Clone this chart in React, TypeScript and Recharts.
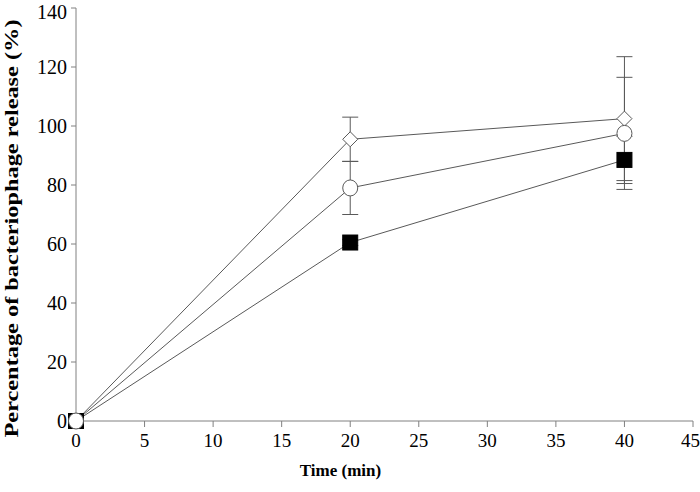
import React from 'react';
import { LineChart, Line, XAxis, YAxis, ErrorBar } from 'recharts';

// Sampling times (min)
const times = [0, 20, 40];

// Three treatments: open diamond, open circle, filled square
const diamondValues = [0, 95.5, 102.5];
const diamondErrors = [0, 7.5, 21];
const circleValues = [0, 79, 97.5];
const circleErrors = [0, 9, 19];
const squareValues = [0, 60.5, 88.5];
const squareErrors = [0, 1, 8];

const xTicks = [0, 5, 10, 15, 20, 25, 30, 35, 40, 45];
const yTicks = [0, 20, 40, 60, 80, 100, 120, 140];

const data = times.map((t, i) => ({
  time: t,
  diamond: diamondValues[i],
  diamondErr: diamondErrors[i],
  circle: circleValues[i],
  circleErr: circleErrors[i],
  square: squareValues[i],
  squareErr: squareErrors[i],
}));

const LINE = '#595959';
const AXIS = '#808080';
const FONT = '"Liberation Serif", "Times New Roman", serif';

const DiamondDot = (props: any) => {
  const { cx, cy } = props;
  if (cx == null || cy == null) return null;
  const r = 7.5;
  return (
    <path
      d={`M${cx},${cy - r} L${cx + r},${cy} L${cx},${cy + r} L${cx - r},${cy} Z`}
      fill="#fff"
      stroke={LINE}
      strokeWidth={1}
    />
  );
};

const CircleDot = (props: any) => {
  const { cx, cy } = props;
  if (cx == null || cy == null) return null;
  return <ellipse cx={cx} cy={cy} rx={7.5} ry={8} fill="#fff" stroke={LINE} strokeWidth={1} />;
};

const SquareDot = (props: any) => {
  const { cx, cy } = props;
  if (cx == null || cy == null) return null;
  return <rect x={cx - 7.5} y={cy - 7.5} width={15} height={15} fill="#000" stroke="#000" />;
};

// the original y title is stretched along its length, so fit it to a set length
const YTitle = (props: any) => {
  const vb = props.viewBox || {};
  const x = (vb.x ?? 28) - 16;
  const y = (vb.y ?? 8) + (vb.height ?? 413) / 2 + 14;
  return (
    <text
      x={x}
      y={y}
      transform={`rotate(-90, ${x}, ${y})`}
      textAnchor="middle"
      dominantBaseline="central"
      fontFamily={FONT}
      fontSize={18}
      fontWeight="bold"
      fill="#000"
      textLength={418}
      lengthAdjust="spacingAndGlyphs"
    >
      Percentage of bacteriophage release (%)
    </text>
  );
};

export default function App() {
  return (
    <div style={{ position: 'absolute', left: 0, top: 0, width: 700, height: 492, background: '#fff' }}>
      <LineChart
        width={700}
        height={492}
        data={data}
        margin={{ top: 8, right: 7, left: 28, bottom: 21 }}
      >
        <XAxis
          dataKey="time"
          type="number"
          domain={[0, 45]}
          ticks={xTicks}
          stroke={AXIS}
          tickSize={6}
          tickMargin={7}
          tick={{ fill: '#000', fontSize: 19, fontFamily: FONT }}
          height={50}
          label={{
            value: 'Time (min)',
            position: 'insideBottom',
            dx: -44,
            dy: 10,
            style: { fill: '#000', fontSize: 17, fontWeight: 'bold', fontFamily: FONT },
          }}
        />
        <YAxis
          type="number"
          domain={[0, 140]}
          ticks={yTicks}
          stroke={AXIS}
          tickSize={5}
          tickMargin={4}
          width={48}
          tick={{ fill: '#000', fontSize: 20, fontFamily: FONT }}
          label={<YTitle />}
        />
        <Line
          dataKey="diamond"
          stroke={LINE}
          strokeWidth={1}
          dot={<DiamondDot />}
          isAnimationActive={false}
        >
          <ErrorBar dataKey="diamondErr" width={8} stroke={LINE} strokeWidth={1} direction="y" />
        </Line>
        <Line
          dataKey="square"
          stroke={LINE}
          strokeWidth={1}
          dot={<SquareDot />}
          isAnimationActive={false}
        >
          <ErrorBar dataKey="squareErr" width={8} stroke={LINE} strokeWidth={1} direction="y" />
        </Line>
        <Line
          dataKey="circle"
          stroke={LINE}
          strokeWidth={1}
          dot={<CircleDot />}
          isAnimationActive={false}
        >
          <ErrorBar dataKey="circleErr" width={8} stroke={LINE} strokeWidth={1} direction="y" />
        </Line>
      </LineChart>
    </div>
  );
}
